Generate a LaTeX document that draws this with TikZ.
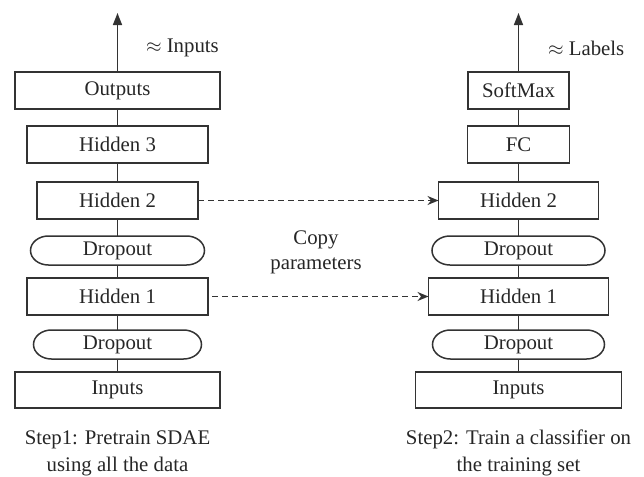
\documentclass[tikz,border=0pt]{standalone}
\usepackage{fontspec}
\setmainfont{Liberation Serif}
\usetikzlibrary{arrows.meta}
\begin{document}
\begin{tikzpicture}[x=0.5pt,y=-0.5pt,
  every node/.style={font=\fontsize{10.4}{12.5}\selectfont, text=black!85},
  line/.style={draw=black!80, line width=0.75pt},
  box/.style={line, rectangle, outer sep=0pt, minimum height=18.5pt, inner sep=0pt},
  dropbox/.style={rectangle, outer sep=0pt, minimum height=14.5pt, inner sep=0pt},
  conn/.style={line},
  uparrow/.style={line, -{Triangle[length=6pt,width=4.5pt]}},
  copyarrow/.style={line, dash pattern=on 3pt off 2pt, -{Stealth[length=5.5pt,width=4.5pt,inset=1.8pt]}}
]
\useasboundingbox (0,0) rectangle (644,477);
\newcommand\dropshape[1]{\draw[line] ([xshift=9pt]#1.north west) -- ([xshift=-9pt]#1.north east)
  arc[start angle=90,end angle=-90,x radius=9pt,y radius=7.25pt] -- ([xshift=9pt]#1.south west)
  arc[start angle=270,end angle=90,x radius=9pt,y radius=7.25pt] -- cycle;}
% left column
\node[box, minimum width=102.5pt] (lout) at (117.5,90.5) {Outputs};
\node[box, minimum width=90.5pt] (lh3) at (117.5,144.5) {Hidden 3};
\node[box, minimum width=80.5pt] (lh2) at (117.5,200.5) {Hidden 2};
\node[dropbox, minimum width=87pt] (ld2) at (117.5,250.5) {Dropout};
\node[box, minimum width=90.5pt] (lh1) at (117.5,296.5) {Hidden 1};
\node[dropbox, minimum width=84pt] (ld1) at (117.5,344.5) {Dropout};
\node[box, minimum width=102.5pt, minimum height=18pt] (lin) at (117.5,390) {Inputs};
\dropshape{ld2}
\dropshape{ld1}
\coordinate (ltop) at (117.5,13);
\draw[uparrow] (lout.north) -- (ltop);
\node[anchor=west] (lapprox) at (139,48) {$\approx$ Inputs};
\draw[conn] (lout) -- (lh3);
\draw[conn] (lh3) -- (lh2);
\draw[conn] (lh2) -- (ld2);
\draw[conn] (ld2) -- (lh1);
\draw[conn] (lh1) -- (ld1);
\draw[conn] (ld1) -- (lin);
\node[align=center] (lcap) at (117.5,453) {Step1: Pretrain SDAE\\[1pt]using all the data};
% right column
\node[box, minimum width=50.5pt] (rsm) at (518.5,90.5) {SoftMax};
\node[box, minimum width=51pt] (rfc) at (518.5,144.5) {FC};
\node[box, minimum width=80pt] (rh2) at (518.5,200.5) {Hidden 2};
\node[dropbox, minimum width=86.5pt] (rd2) at (518.5,250.5) {Dropout};
\node[box, minimum width=90pt] (rh1) at (518.5,296.5) {Hidden 1};
\node[dropbox, minimum width=86pt] (rd1) at (518.5,344.5) {Dropout};
\node[box, minimum width=103pt, minimum height=18pt] (rin) at (518.5,390) {Inputs};
\dropshape{rd2}
\dropshape{rd1}
\coordinate (rtop) at (518.5,13);
\draw[uparrow] (rsm.north) -- (rtop);
\node[anchor=west] (rapprox) at (541,48) {$\approx$ Labels};
\draw[conn] (rsm) -- (rfc);
\draw[conn] (rfc) -- (rh2);
\draw[conn] (rh2) -- (rd2);
\draw[conn] (rd2) -- (rh1);
\draw[conn] (rh1) -- (rd1);
\draw[conn] (rd1) -- (rin);
\node[align=center] (rcap) at (518.5,453) {Step2: Train a classifier on\\[1pt]the training set};
% copy arrows
\draw[copyarrow] (lh2.east) -- (rh2.west);
\draw[copyarrow] ([xshift=2pt]lh1.east) -- (rh1.west);
\node[align=center] (copy) at (316,252) {Copy\\parameters};
\end{tikzpicture}
\end{document}
